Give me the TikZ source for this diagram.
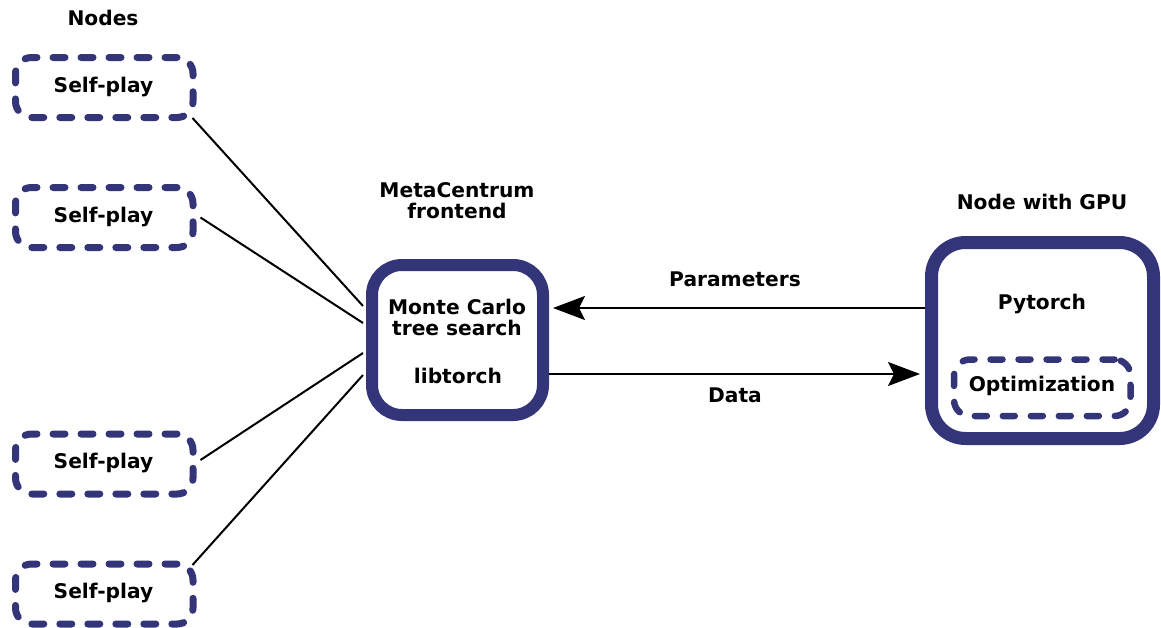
\documentclass[tikz,border=0pt]{standalone}
\usepackage{fontspec}
\setmainfont{DejaVu Sans}
\usetikzlibrary{arrows.meta,calc}
\definecolor{navy}{RGB}{52,52,120}
\tikzset{
  lbl/.style={font=\fontsize{20.2}{21}\selectfont\bfseries, inner sep=0pt, align=center},
  sp/.style={draw=navy, line width=7pt, rounded corners=16pt, dash pattern=on 12pt off 16pt, line cap=round, minimum width=177.5pt, minimum height=60pt, fill=white, inner sep=0pt},
  bigbox/.style={draw=navy, rounded corners=30pt, fill=white, inner sep=0pt},
  conn/.style={line width=2pt},
  arr/.style={line width=2pt, -{Stealth[length=32pt,width=24pt,inset=6pt]}},
}
\begin{document}
\begin{tikzpicture}[x=1pt,y=-1pt]
\useasboundingbox (0,0) rectangle (1161,627);
% self-play nodes
\node[sp] (sp1) at (104.25,87.5) {};
\node[sp] (sp2) at (104.25,217.5) {};
\node[sp] (sp3) at (104.25,464) {};
\node[sp] (sp4) at (104.25,594) {};
\node[lbl] (t1) at (103.5,87) {Self-play};
\node[lbl] (t2) at (103.5,217) {Self-play};
\node[lbl] (t3) at (103.5,463) {Self-play};
\node[lbl] (t4) at (103.5,593) {Self-play};
\node[lbl] (nodes) at (103,18) {Nodes};
% MCTS box
\node[bigbox, line width=12pt, minimum width=171pt, minimum height=150pt] (mcts) at (457.5,340) {};
\node[lbl] (mc) at (457,317) {Monte Carlo\\tree search};
\node[lbl] (lt) at (458,376) {libtorch};
\node[lbl] (front) at (457,201) {MetaCentrum\\frontend};
% GPU box
\node[bigbox, line width=13pt, rounded corners=34pt, minimum width=222pt, minimum height=196pt] (gpu) at (1042.5,340.5) {};
\node[lbl] (gputitle) at (1042,202) {Node with GPU};
\node[lbl] (pt) at (1042,304) {Pytorch};
\node[sp, line width=6.5pt, minimum width=176.5pt, minimum height=56.5pt] (opt) at (1042.25,387.75) {};
\node[lbl] (optt) at (1042,386) {Optimization};
% connectors
\coordinate (c1) at ($(mcts.west)+(-3,-34)$);
\coordinate (c2) at ($(mcts.west)+(-3,-17)$);
\coordinate (c3) at ($(mcts.west)+(-3,13)$);
\coordinate (c4) at ($(mcts.west)+(-3,35)$);
\draw[conn] ($(sp1.south east)+(-4,-3)$) -- (c1);
\draw[conn] ($(sp2.east)+(4,0)$) -- (c2);
\draw[conn] ($(sp3.east)+(4,-4)$) -- (c3);
\draw[conn] ($(sp4.north east)+(-4,4.5)$) -- (c4);
% arrows
\draw[arr, shorten >=4pt] ($(gpu.west)+(0,-32.5)$) -- ($(mcts.east)+(0,-32)$);
\draw[arr, shorten >=5pt] ($(mcts.east)+(0,34)$) -- ($(gpu.west)+(0,33.5)$);
\node[lbl] (par) at (735,279) {Parameters};
\node[lbl] (data) at (735,395) {Data};
\end{tikzpicture}
\end{document}
